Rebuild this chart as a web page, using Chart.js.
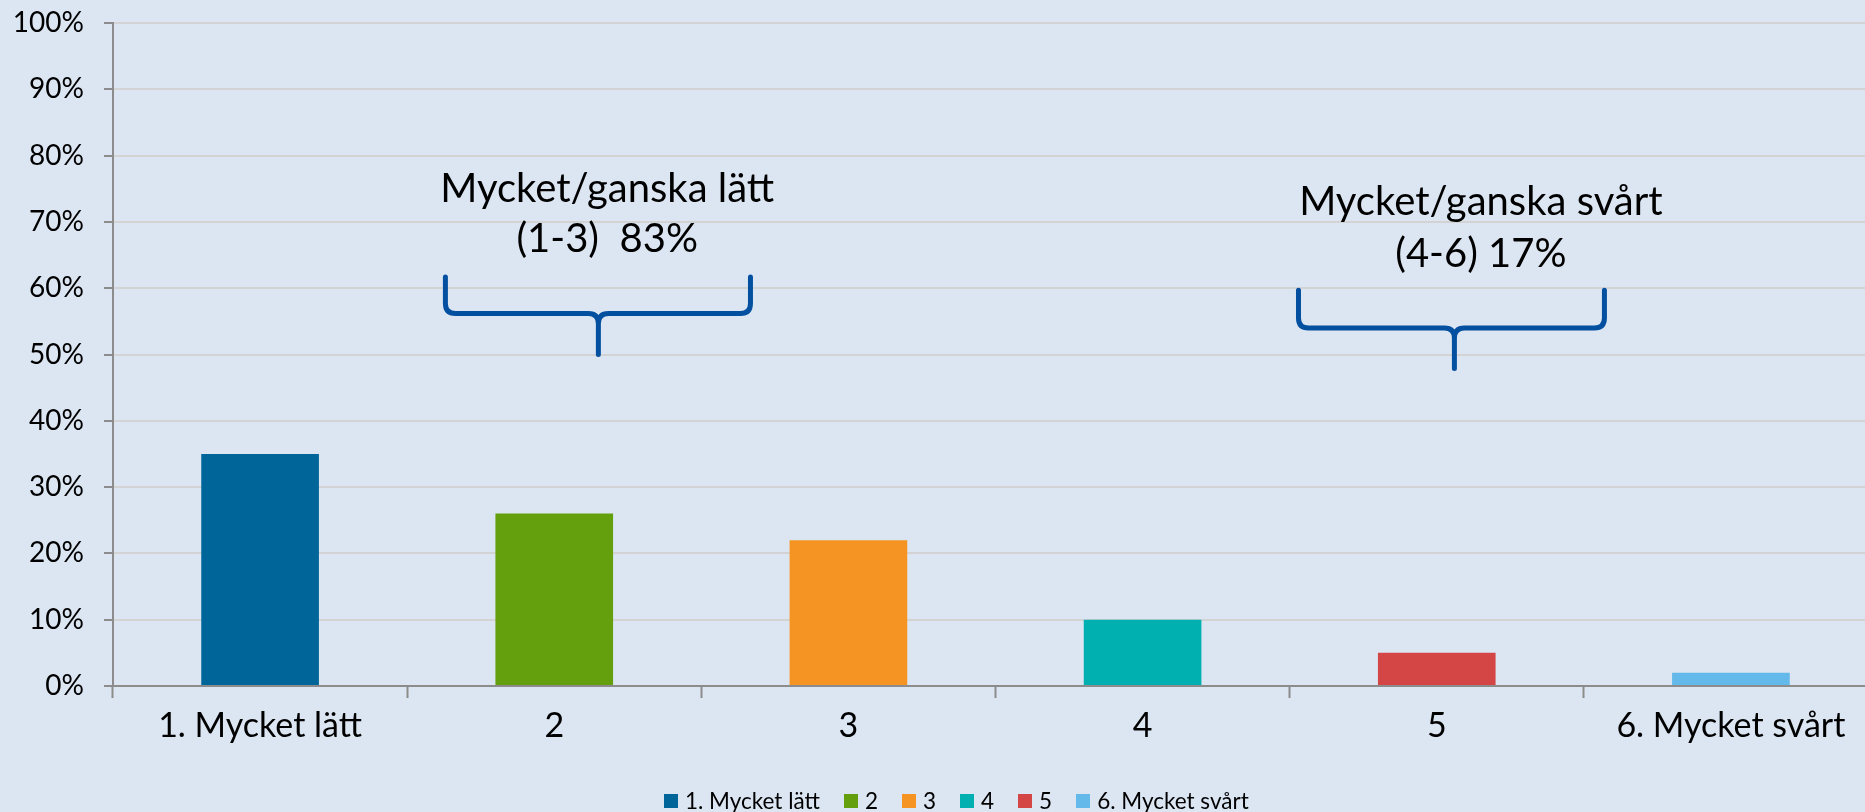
<!DOCTYPE html>
<html>
<head>
<meta charset="utf-8">
<script src="https://cdn.jsdelivr.net/npm/chart.js@4.4.1/dist/chart.umd.min.js"></script>
<style>
  html, body { margin: 0; padding: 0; background: #dce6f3; overflow: hidden; }
  #wrap { position: relative; width: 1865px; height: 812px; overflow: hidden; }
  #box { position: absolute; left: 0; top: 0; width: 1880px; height: 812px; }
  #legend { position: absolute; top: 788px; left: 664px; display: flex; align-items: center;
    font-family: Lato, "Open Sans", sans-serif; font-size: 22.5px; line-height: 26px; color: #000; white-space: nowrap; }
  #legend span.sw { display: inline-block; width: 14px; height: 14px; margin-right: 7px; }
  #legend span.item { display: inline-flex; align-items: center; margin-right: 24px; }
</style>
</head>
<body>
<div id="wrap">
  <div id="box"><canvas id="chart"></canvas></div>
  <div id="legend"></div>
</div>
<script>
// data
const categories = ['1. Mycket lätt', '2', '3', '4', '5', '6. Mycket svårt'];
const shares = [35, 26, 22, 10, 5, 2];
const barColors = ['#006699', '#64a00d', '#f59422', '#00b0b0', '#d44545', '#63b9ea'];
const yTicks = [0, 10, 20, 30, 40, 50, 60, 70, 80, 90, 100];

// brace annotations, x in category units, y in percent
const groups = [
  { lines: ['Mycket/ganska lätt', '(1-3)  83%'], x: 1.18, y1: 73, y2: 65.4,
    left: 0.63, right: 1.667, tip: 1.15, top: 61.7, mid: 56.2, bottom: 50 },
  { lines: ['Mycket/ganska svårt', '(4-6) 17%'], x: 4.15, y1: 71, y2: 63.2,
    left: 3.53, right: 4.57, tip: 4.06, top: 59.7, mid: 54, bottom: 47.9 }
];

const fontFamily = 'Lato, "Open Sans", sans-serif';

// draws the text and curly braces over the bars
const bracePlugin = {
  id: 'braces',
  afterDatasetsDraw(chart) {
    const ctx = chart.ctx;
    const xs = chart.scales.x;
    const ys = chart.scales.y;
    ctx.save();
    groups.forEach(g => {
      ctx.fillStyle = '#000';
      ctx.font = '40px ' + fontFamily;
      ctx.textAlign = 'center';
      ctx.textBaseline = 'alphabetic';
      const tx = xs.getPixelForValue(g.x);
      ctx.fillText(g.lines[0], tx, ys.getPixelForValue(g.y1));
      ctx.fillText(g.lines[1], tx, ys.getPixelForValue(g.y2));

      const l = xs.getPixelForValue(g.left);
      const r = xs.getPixelForValue(g.right);
      const t = xs.getPixelForValue(g.tip);
      const top = ys.getPixelForValue(g.top);
      const mid = ys.getPixelForValue(g.mid);
      const bot = ys.getPixelForValue(g.bottom);
      const rad = 10;
      ctx.strokeStyle = '#0450a0';
      ctx.lineWidth = 5;
      ctx.lineCap = 'round';
      ctx.lineJoin = 'round';
      ctx.beginPath();
      ctx.moveTo(l, top);
      ctx.lineTo(l, mid - rad);
      ctx.quadraticCurveTo(l, mid, l + rad, mid);
      ctx.lineTo(t - rad, mid);
      ctx.quadraticCurveTo(t, mid, t, mid + rad);
      ctx.lineTo(t, bot);
      ctx.moveTo(r, top);
      ctx.lineTo(r, mid - rad);
      ctx.quadraticCurveTo(r, mid, r - rad, mid);
      ctx.lineTo(t + rad, mid);
      ctx.quadraticCurveTo(t, mid, t, mid + rad);
      ctx.stroke();
    });
    ctx.restore();
  }
};

const chart = new Chart(document.getElementById('chart'), {
  type: 'bar',
  data: {
    labels: categories,
    datasets: [{
      data: shares,
      backgroundColor: barColors,
      borderWidth: 0,
      categoryPercentage: 1,
      barPercentage: 0.4
    }]
  },
  options: {
    responsive: true,
    maintainAspectRatio: false,
    animation: false,
    layout: { padding: { top: 23, right: 2, left: 0, bottom: 0 } },
    plugins: { legend: { display: false }, tooltip: { enabled: false } },
    scales: {
      x: {
        afterFit(scale) { scale.height = 126; },
        grid: { offset: true, drawOnChartArea: false, tickLength: 12, tickColor: '#8c8c8c', tickWidth: 2 },
        border: { color: '#8c8c8c', width: 2 },
        ticks: { color: '#000', font: { family: fontFamily, size: 34 }, maxRotation: 0, padding: 8 }
      },
      y: {
        min: 0, max: 100,
        afterFit(scale) { scale.width = 113; scale.paddingTop = 0; scale.paddingBottom = 0; },
        afterBuildTicks(scale) { scale.ticks = yTicks.map(v => ({ value: v })); },
        grid: { color: '#d3d3d3', lineWidth: 2, tickLength: 9, tickColor: '#8c8c8c', tickWidth: 2 },
        border: { color: '#8c8c8c', width: 2 },
        ticks: { color: '#000', font: { family: fontFamily, size: 28 }, padding: 20,
          callback: v => v + '%' }
      }
    }
  },
  plugins: [bracePlugin]
});

// legend built from the same arrays
const legend = document.getElementById('legend');
categories.forEach((c, i) => {
  const item = document.createElement('span');
  item.className = 'item';
  const sw = document.createElement('span');
  sw.className = 'sw';
  sw.style.background = barColors[i];
  item.appendChild(sw);
  item.appendChild(document.createTextNode(c));
  legend.appendChild(item);
});
</script>
</body>
</html>
